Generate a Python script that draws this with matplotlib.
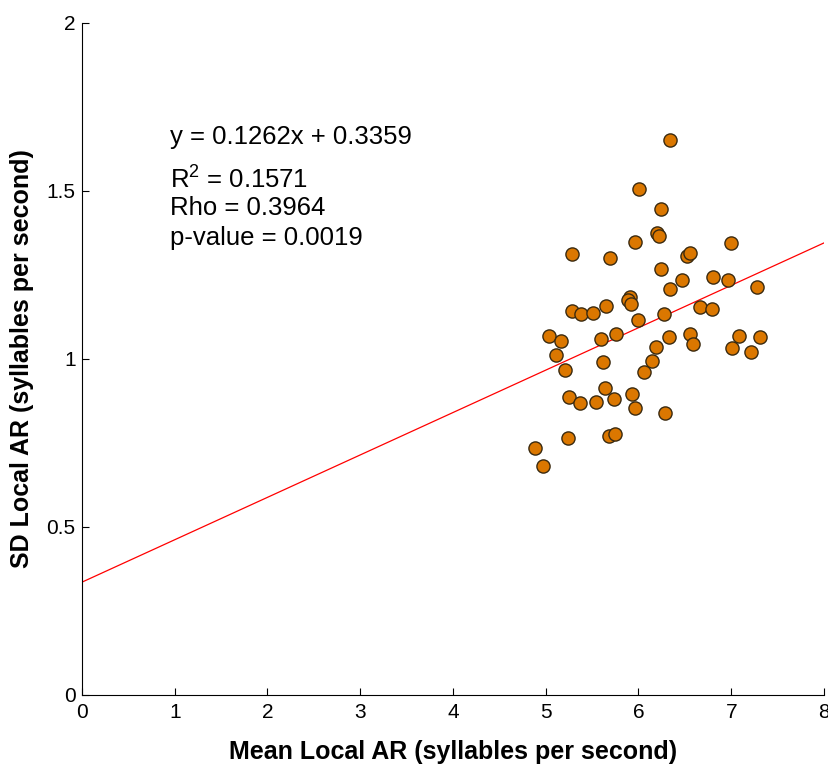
import numpy as np
import matplotlib
matplotlib.use("Agg")
import matplotlib.pyplot as plt

plt.rcParams['font.family'] = ['Liberation Sans', 'DejaVu Sans']
plt.rcParams['mathtext.fontset'] = 'custom'
plt.rcParams['mathtext.rm'] = 'Liberation Sans'

# values
mean_ar = [4.884, 4.970, 5.035, 5.107, 5.168, 5.208, 5.247, 5.243, 5.280, 5.280,
           5.380, 5.369, 5.506, 5.545, 5.596, 5.617, 5.646, 5.642, 5.693, 5.685,
           5.733, 5.757, 5.743, 5.908, 5.890, 5.919, 5.930, 5.965, 5.965, 5.991,
           6.005, 6.063, 6.142, 6.192, 6.196, 6.218, 6.243, 6.243, 6.275, 6.289,
           6.329, 6.340, 6.340, 6.472, 6.526, 6.555, 6.552, 6.591, 6.663, 6.790,
           6.800, 6.962, 6.997, 7.011, 7.084, 7.213, 7.274, 7.310]
sd_ar = [0.734, 0.682, 1.068, 1.013, 1.054, 0.968, 0.888, 0.766, 1.312, 1.144,
         1.133, 0.868, 1.136, 0.871, 1.060, 0.992, 1.158, 0.913, 1.301, 0.772,
         0.882, 1.075, 0.776, 1.185, 1.176, 1.163, 0.895, 0.854, 1.349, 1.116,
         1.507, 0.961, 0.995, 1.037, 1.374, 1.366, 1.446, 1.267, 1.133, 0.840,
         1.065, 1.208, 1.652, 1.236, 1.307, 1.316, 1.075, 1.044, 1.154, 1.148,
         1.244, 1.236, 1.346, 1.033, 1.068, 1.020, 1.215, 1.066]

slope = 0.1262
intercept = 0.3359
stats_lines = ['y = 0.1262x + 0.3359', r'R$^\mathregular{2}$ = 0.1571',
               'Rho = 0.3964', 'p-value = 0.0019']

x_ticks = [0, 1, 2, 3, 4, 5, 6, 7, 8]
y_ticks = [0, 0.5, 1, 1.5, 2]
y_ticklabels = ['0', '0.5', '1', '1.5', '2']

fig = plt.figure(figsize=(8.29, 7.64), dpi=100)
ax = fig.add_axes([82 / 829, 1 - 695 / 764, 742 / 829, 672 / 764])

# regression line over the full x range
xl = np.array([0, 8])
ax.plot(xl, slope * xl + intercept, color='red', linewidth=0.9)

ax.scatter(mean_ar, sd_ar, s=90, color='#DB7700', edgecolors='#3a2a10',
           linewidths=1.0, zorder=3)

# stats text block
baselines = [1.639, 1.511, 1.429, 1.339]
for txt, yb in zip(stats_lines, baselines):
    ax.text(0.949, yb, txt, fontsize=18.5, va='baseline', ha='left')

ax.set_xlim(0, 8)
ax.set_ylim(0, 2)
ax.set_xticks(x_ticks)
ax.set_yticks(y_ticks)
ax.set_yticklabels(y_ticklabels)
ax.tick_params(direction='in', length=5, width=0.8, labelsize=15)
ax.tick_params(axis='x', pad=6)
ax.tick_params(axis='y', pad=4.5)
ax.spines['top'].set_visible(False)
ax.spines['right'].set_visible(False)

ax.set_xlabel('Mean Local AR (syllables per second)', fontsize=18, fontweight='bold')
ax.set_ylabel('SD Local AR (syllables per second)', fontsize=18, fontweight='bold')
ax.xaxis.set_label_coords(0.5, -0.085)
ax.yaxis.set_label_coords(-0.081, 0.5)
ax.xaxis.label.set_va('center')
ax.yaxis.label.set_va('center')

fig.savefig('out.png', dpi=100)
